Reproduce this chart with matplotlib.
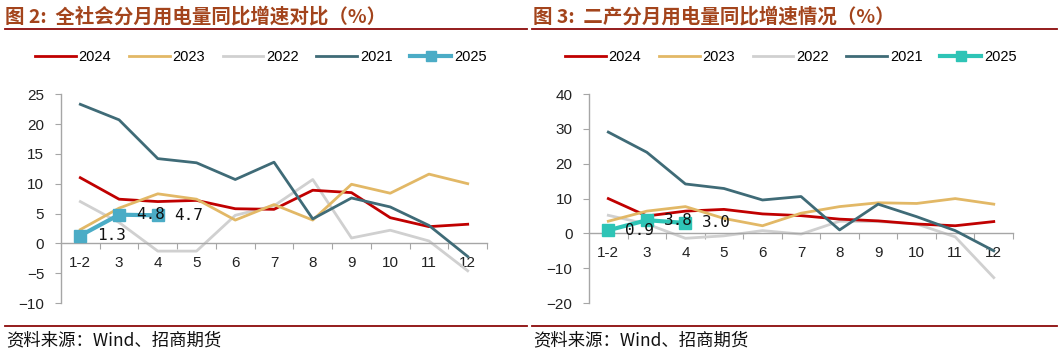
import matplotlib
matplotlib.use("Agg")
import matplotlib.pyplot as plt
from matplotlib.lines import Line2D

plt.rcParams['font.family'] = ['Noto Sans CJK SC', 'DejaVu Sans']

months = ["1-2", "3", "4", "5", "6", "7", "8", "9", "10", "11", "12"]

# 全社会用电量同比 (%)
total_2024 = [11.0, 7.4, 7.0, 7.2, 5.8, 5.7, 8.9, 8.5, 4.3, 2.8, 3.2]
total_2023 = [2.3, 5.9, 8.3, 7.4, 3.9, 6.5, 3.9, 9.9, 8.4, 11.6, 10.0]
total_2022 = [7.0, 3.5, -1.3, -1.3, 4.7, 6.3, 10.7, 0.9, 2.2, 0.4, -4.6]
total_2021 = [23.3, 20.7, 14.2, 13.5, 10.7, 13.6, 4.1, 7.6, 6.1, 3.0, -2.2]
total_2025 = [1.3, 4.8, 4.7]

# 二产用电量同比 (%)
second_2024 = [10.0, 5.0, 6.4, 6.9, 5.6, 5.1, 4.1, 3.6, 2.7, 2.2, 3.4]
second_2023 = [3.5, 6.4, 7.7, 4.3, 2.2, 5.8, 7.7, 8.8, 8.6, 10.0, 8.4]
second_2022 = [5.2, 2.7, -1.4, -0.7, 0.8, -0.2, 3.5, 3.4, 2.7, -1.0, -12.7]
second_2021 = [29.1, 23.3, 14.2, 12.9, 9.6, 10.6, 1.0, 8.4, 4.8, 0.8, -5.0]
second_2025 = [0.9, 3.8, 3.0]

RED = "#C00000"
GOLD = "#E2B866"
GRAY = "#D0D0D0"
TEAL = "#3F6B77"
TITLE_C = "#A3441C"
RULE_C = "#8B0A0A"
NUM_FONT = ["Liberation Sans", "DejaVu Sans"]

fig = plt.figure(figsize=(10.6, 3.54), dpi=100)


def draw_panel(ax, series, s2025, c2025, ylim, yticks):
    x = list(range(len(months)))
    ax.plot(x, series[0], color=RED, lw=2.0, zorder=3)
    ax.plot(x, series[1], color=GOLD, lw=2.0, zorder=3)
    ax.plot(x, series[2], color=GRAY, lw=2.0, zorder=2)
    ax.plot(x, series[3], color=TEAL, lw=2.0, zorder=4)
    x25 = list(range(len(s2025)))
    ax.plot(x25, s2025, color=c2025, lw=3.0, marker="s", markersize=8, zorder=5)
    for xi, v in zip(x25, s2025):
        ax.annotate(f"{v:.1f}", (xi, v), xytext=(12, 0), textcoords="offset points",
                    ha="left", va="center", fontsize=11.5, family="DejaVu Sans Mono",
                    color="#111111", zorder=6)
    ax.set_xlim(-0.5, len(months) - 0.5)
    ax.set_ylim(*ylim)
    ax.set_yticks(yticks)
    for s in ["top", "right"]:
        ax.spines[s].set_visible(False)
    ax.spines["bottom"].set_position(("data", 0))
    for s in ["left", "bottom"]:
        ax.spines[s].set_color("#A6A6A6")
        ax.spines[s].set_linewidth(1.0)
    # tick marks between categories, labels at centres
    ax.set_xticks([i + 0.5 for i in range(len(months))])
    ax.set_xticklabels([])
    ax.set_xticks(x, minor=True)
    ax.set_xticklabels(months, minor=True)
    ax.tick_params(axis="x", which="major", length=4, color="#A6A6A6", direction="out")
    ax.tick_params(axis="x", which="minor", length=0, pad=9, labelsize=11, labelcolor="#222222")
    ax.tick_params(axis="y", length=4, color="#A6A6A6", labelsize=11, labelcolor="#222222", pad=8)
    for lab in ax.get_xticklabels(minor=True) + ax.get_yticklabels():
        lab.set_family(NUM_FONT)
    ax.patch.set_alpha(0)


ax1 = fig.add_axes([0.0575, 0.144, 0.402, 0.590])
draw_panel(ax1, [total_2024, total_2023, total_2022, total_2021], total_2025, "#4BACC6",
           (-10, 25), range(-10, 26, 5))
ax2 = fig.add_axes([0.5557, 0.144, 0.400, 0.590])
draw_panel(ax2, [second_2024, second_2023, second_2022, second_2021], second_2025, "#2EC4B6",
           (-20, 40), range(-20, 41, 10))

# titles and rules
fig.text(0.005, 0.953, "图 2:  全社会分月用电量同比增速对比（%）", fontsize=14, fontweight="bold",
         color=TITLE_C, va="center", ha="left")
fig.text(0.503, 0.953, "图 3:  二产分月用电量同比增速情况（%）", fontsize=14, fontweight="bold",
         color=TITLE_C, va="center", ha="left")
for (x0, x1) in [(0.005, 0.497), (0.502, 0.997)]:
    fig.add_artist(Line2D([x0, x1], [0.917, 0.917], color=RULE_C, lw=1.3))
    fig.add_artist(Line2D([x0, x1], [0.079, 0.079], color=RULE_C, lw=1.3))
fig.text(0.006, 0.038, "资料来源：Wind、招商期货", fontsize=12.5, color="#111111", va="center", ha="left")
fig.text(0.503, 0.038, "资料来源：Wind、招商期货", fontsize=12.5, color="#111111", va="center", ha="left")


def legend_handles(c2025):
    return [Line2D([], [], color=RED, lw=2.0),
            Line2D([], [], color=GOLD, lw=2.0),
            Line2D([], [], color=GRAY, lw=2.0),
            Line2D([], [], color=TEAL, lw=2.0),
            Line2D([], [], color=c2025, lw=3.0, marker="s", markersize=7)]


labels = ["2024", "2023", "2022", "2021", "2025"]
for cx, c25 in [(0.246, "#4BACC6"), (0.746, "#2EC4B6")]:
    fig.legend(legend_handles(c25), labels, loc="center", bbox_to_anchor=(cx, 0.838),
               ncol=5, frameon=False, prop={"family": NUM_FONT, "size": 10.5},
               handlelength=2.8, columnspacing=1.2, handletextpad=0.2)

fig.savefig("out.png", dpi=100, facecolor="white")
